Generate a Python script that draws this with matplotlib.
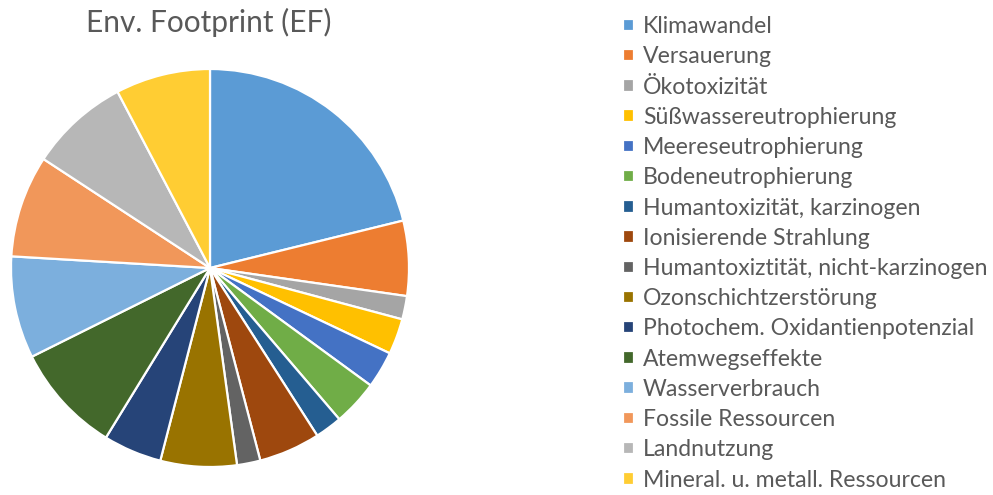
import matplotlib.pyplot as plt

# EF impact categories (share of total, %)
labels = ['Klimawandel', 'Versauerung', 'Ökotoxizität', 'Süßwassereutrophierung',
          'Meereseutrophierung', 'Bodeneutrophierung', 'Humantoxizität, karzinogen',
          'Ionisierende Strahlung', 'Humantoxiztität, nicht-karzinogen',
          'Ozonschichtzerstörung', 'Photochem. Oxidantienpotenzial', 'Atemwegseffekte',
          'Wasserverbrauch', 'Fossile Ressourcen', 'Landnutzung',
          'Mineral. u. metall. Ressourcen']
values = [21.2, 6.1, 1.9, 2.9, 3.0, 3.7, 2.2, 5.0, 1.9, 6.2, 4.75, 8.9, 8.3, 8.3, 8.1, 7.7]
colors = ['#5B9BD5', '#ED7D31', '#A5A5A5', '#FFC000', '#4472C4', '#70AD47', '#255E91',
          '#9E480E', '#636363', '#997300', '#264478', '#43682B', '#7CAFDD', '#F1975A',
          '#B7B7B7', '#FFCD33']

plt.rcParams['font.family'] = ['Lato', 'DejaVu Sans']
txt_color = '#595959'

fig = plt.figure(figsize=(9.93, 4.95), dpi=100)
W, H = 993, 495
cx, cy, r = 210, 268, 199
ax = fig.add_axes([(cx - 200) / W, (H - cy - 200) / H, 400 / W, 400 / H])
wedges, _ = ax.pie(values, colors=colors, startangle=90, counterclock=False,
                   wedgeprops=dict(edgecolor='white', linewidth=1.6))
lim = 200 / r
ax.set_xlim(-lim, lim)
ax.set_ylim(-lim, lim)
ax.set_aspect('equal')

fig.text(209 / W, 1 - 22 / H, 'Env. Footprint (EF)', ha='center', va='center',
         fontsize=21.5, color=txt_color)

leg = fig.legend(wedges, labels, loc='upper left', bbox_to_anchor=(614 / W, 1 - 7 / H),
                 frameon=False, fontsize=16.6, handlelength=0.45, handleheight=0.45,
                 handletextpad=0.4, labelspacing=0.40, borderaxespad=0)
for t in leg.get_texts():
    t.set_color(txt_color)

fig.savefig('out.png', dpi=100)
